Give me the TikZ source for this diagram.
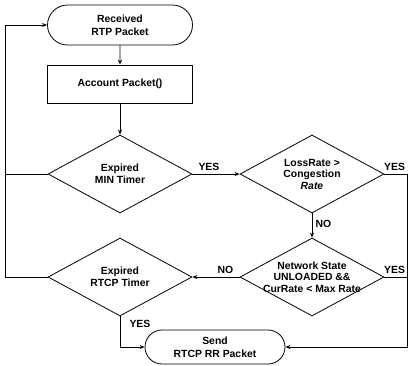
\documentclass[tikz,border=0pt]{standalone}
\usepackage{fontspec}
\setmainfont{Liberation Sans}
\usetikzlibrary{shapes.geometric,shapes.misc,arrows.meta}
\begin{document}
\begin{tikzpicture}[x=1pt,y=-1pt,
  every node/.style={font=\fontsize{10.4}{11.5}\selectfont\bfseries, align=center},
  term/.style={draw, thick, rounded rectangle, minimum width=145pt, minimum height=40pt, inner sep=0pt},
  procbox/.style={draw, thick, rectangle, minimum width=145pt, minimum height=38pt, inner sep=0pt},
  decision/.style={draw, thick, diamond, aspect=1.85, minimum width=144pt, minimum height=78pt, inner sep=0pt},
  lbl/.style={font=\fontsize{10.4}{11.5}\selectfont\bfseries},
  conn/.style={thick},
  arr/.style={thick, -{Stealth[length=5pt,width=4pt]}}]
\useasboundingbox (0,0) rectangle (409,365);
\node[term, font=\fontsize{10.4}{13}\selectfont\bfseries] (recv) at (120,25) {Received\\RTP Packet};
\node[procbox] (acct) at (120,84) {Account Packet()};
\node[decision] (min) at (120,174) {Expired\\MIN Timer};
\node[decision] (loss) at (312,174) {LossRate >\\Congestion\\\textit{Rate}};
\node[decision] (net) at (312,277) {};
\node[inner sep=0pt] (nettext) at (net.center) {Network State\\UNLOADED \&\&\\CurRate < Max Rate};
\node[decision] (rtcp) at (120,277) {Expired\\RTCP Timer};
\node[term, minimum width=140pt, minimum height=34pt, font=\fontsize{10.4}{13}\selectfont\bfseries] (send) at (215,347) {Send\\RTCP RR Packet};
\coordinate (lt) at (5,25);
\coordinate (lb) at (5,277);
\coordinate (rt) at (407,174);
\coordinate (rb) at (407,347);
\coordinate (yb) at (120,347);
\draw[arr] (recv) -- (acct);
\draw[arr] (acct) -- (min);
\draw[arr] (min.east) -- node[lbl, above, pos=0.35] {YES} (loss.west);
\draw[arr] (loss.south) -- node[lbl, right, pos=0.45] {NO} (net.north);
\draw[arr] (net.west) -- node[lbl, above, pos=0.3] {NO} (rtcp.east);
\draw[conn] (loss.east) -- node[lbl, above, pos=0.45] {YES} (rt);
\draw[conn] (net.east) -- node[lbl, above, pos=0.45] {YES} (net.east -| rt);
\draw[arr] (rt) -- (rb) -- (send.east);
\draw[arr] (rtcp.south) -- (yb) -- (send.west);
\node[lbl, anchor=west] at (126,324) {YES};
\draw[arr] (rtcp.west) -- (lb) -- (lt) -- (recv.west);
\draw[conn] (min.west) -- (min.west -| lt);
\end{tikzpicture}
\end{document}
